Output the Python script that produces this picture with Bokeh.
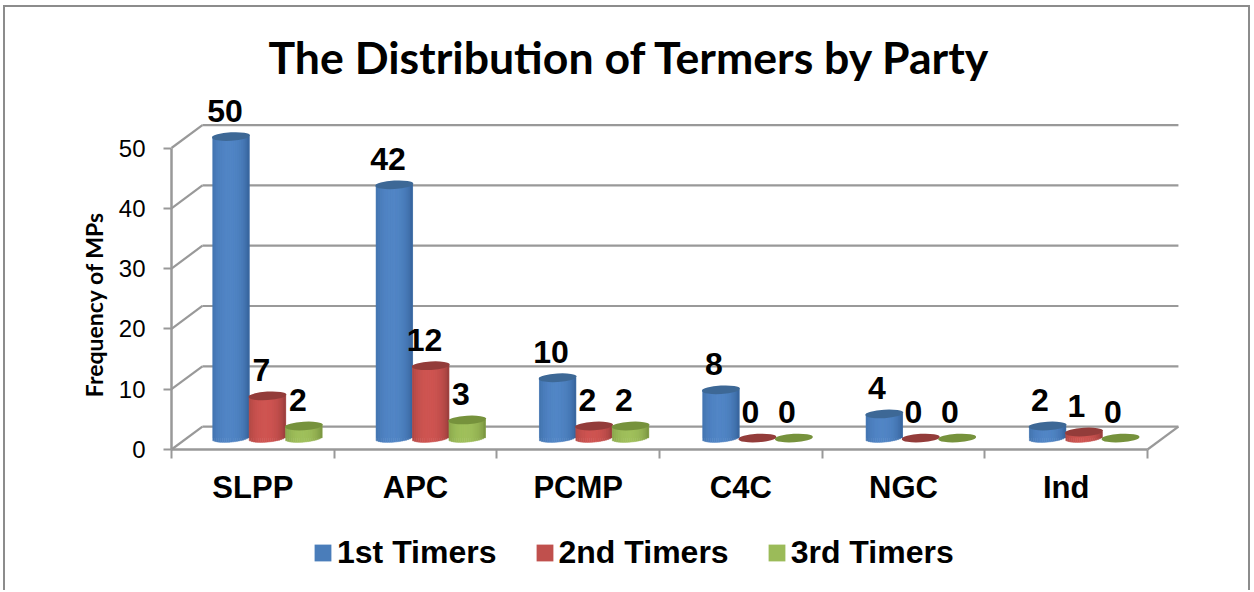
import math
from bokeh.plotting import figure
from bokeh.models import FixedTicker, LinearAxis, Legend, LegendItem, Range1d, Label
from bokeh.core.properties import value
from bokeh.embed import file_html
from bokeh.resources import INLINE

title_text = "The Distribution of Termers by Party"
y_title = "Frequency of MPs"
parties = ["SLPP", "APC", "PCMP", "C4C", "NGC", "Ind"]
series_names = ["1st Timers", "2nd Timers", "3rd Timers"]
first_timers = [50, 42, 10, 8, 4, 2]
second_timers = [7, 12, 2, 0, 0, 1]
third_timers = [2, 3, 2, 0, 0, 0]
y_ticks = [0, 10, 20, 30, 40, 50]
series_values = [first_timers, second_timers, third_timers]
light_colors = ["#5286c6", "#cf5552", "#a0c05c"]
edge_colors = ["#2f5c92", "#8c3836", "#70893a"]
cap_colors = ["#3d6896", "#933c3a", "#76923c"]
legend_colors = ["#4a7dba", "#c0504d", "#9bbb59"]
GRID = "#999999"
FONT = "Liberation Sans"

# Canvas origin on the page, canvas size, and where value 0 / party 0 fall on it
OX, OY = 5, 7
W, H = 1247, 585
ORIGIN_X, TOP, ORIGIN_Y = 171 - OX, 85 - OY, 449 - OY
PX_X = 162.67
PX_Y = 6.03
DX = 0.19   # depth of the 3-D floor, x units
DY = 3.8    # depth of the 3-D floor, value units
BAR_W = 0.224
STEP = 1.004  # bars sit slightly wider apart than the axis slots
LABEL_STEP = 1.002

p = figure(
    width=W, height=H, output_backend="svg", toolbar_location=None,
    x_range=Range1d(-ORIGIN_X / PX_X, (W - ORIGIN_X) / PX_X),
    y_range=Range1d(-(H - ORIGIN_Y) / PX_Y, (ORIGIN_Y - TOP) / PX_Y),
    min_border_left=0, min_border_right=0, min_border_top=TOP, min_border_bottom=0,
    x_axis_type=None, y_axis_type=None,
    outline_line_color=None, background_fill_color="white",
    styles={"margin-left": "3px", "margin-top": "5px",
            "border-left": "2px solid #8c8c8c", "border-top": "2px solid #8c8c8c",
            "border-right": "2px solid #8c8c8c"},
)
p.grid.visible = False

p.title.text = title_text
p.title.text_font = "Lato"
p.title.text_font_style = "bold"
p.title.text_font_size = "44.6px"
p.title.text_color = "black"
p.title.align = "left"
p.title.offset = 263
p.title.standoff = 5

# Axes
ax_y = LinearAxis(
    ticker=FixedTicker(ticks=y_ticks), bounds=(0, 50), fixed_location=0,
    axis_line_color=GRID, axis_line_width=2.5,
    major_tick_line_color=GRID, major_tick_line_width=2, major_tick_out=8, major_tick_in=0,
    minor_tick_line_color=None, major_label_text_font=FONT, major_label_text_font_size="24px",
    major_label_text_color="black", major_label_standoff=18,
)
p.add_layout(ax_y, "left")

n = len(parties)
ax_x = LinearAxis(
    ticker=FixedTicker(ticks=list(range(n + 1))), bounds=(0, n), fixed_location=0,
    axis_line_color=GRID, axis_line_width=2.5,
    major_tick_line_color=GRID, major_tick_line_width=2, major_tick_out=9, major_tick_in=0,
    minor_tick_line_color=None, major_label_text_font_size="0px", major_label_text_color=None,
)
p.add_layout(ax_x, "below")
ax_lab = LinearAxis(
    ticker=FixedTicker(ticks=[i + 0.5 for i in range(n)]), bounds=(0, n), fixed_location=0,
    major_label_overrides={i + 0.5: parties[i] for i in range(n)},
    axis_line_color=None, major_tick_line_color=None, minor_tick_line_color=None,
    major_label_text_font=FONT, major_label_text_font_style="bold",
    major_label_text_font_size="31px", major_label_text_color="black",
    major_label_standoff=14,
)
p.add_layout(ax_lab, "below")

p.add_layout(Label(
    x=(93 - 171) / PX_X, y=(449 - 304) / PX_Y, text=y_title,
    angle=math.pi / 2, text_align="center", text_baseline="middle",
    text_font="Lato", text_font_style="bold", text_font_size="23px", text_color="black",
))

# 3-D walls and floor
p.multi_line(
    [[DX, n + DX] for v in y_ticks] + [[0, DX] for v in y_ticks] + [[n, n + DX]],
    [[v + DY, v + DY] for v in y_ticks] + [[v, v + DY] for v in y_ticks] + [[0, DY]],
    line_color=GRID, line_width=2.2,
)


def mix(a, b, t):
    ca = [int(a[i:i + 2], 16) for i in (1, 3, 5)]
    cb = [int(b[i:i + 2], 16) for i in (1, 3, 5)]
    return "#%02x%02x%02x" % tuple(round(x + (y - x) * t) for x, y in zip(ca, cb))


RY = 4.0 / PX_Y
TILT = 1.6 / PX_Y
STRIPS = 19
legend_items = []
for s, vals in enumerate(series_values):
    centers = [i * STEP + 0.5 + DX / 2 + (s - 1) * BAR_W - 0.005 for i in range(n)]
    label_x = [i * LABEL_STEP + 0.5 + DX / 2 + (s - 1) * BAR_W - 0.005 for i in range(n)]
    base = DY / 2
    r = p.quad(
        left=[c - BAR_W / 2 for c in centers], right=[c + BAR_W / 2 for c in centers],
        bottom=[base] * n, top=[base + v for v in vals],
        fill_color=legend_colors[s], line_color=None,
        fill_alpha=[1 if v > 0 else 0 for v in vals],
    )
    legend_items.append(LegendItem(label=series_names[s], renderers=[r]))
    L, R, B, T, C = [], [], [], [], []
    for i, v in enumerate(vals):
        if v <= 0:
            continue
        for k in range(STRIPS):
            u0 = -1 + 2 * k / STRIPS
            u1 = -1 + 2 * (k + 1) / STRIPS
            u = (u0 + u1) / 2
            shade = max(0.0, 1 - ((u + 0.1) / 1.1) ** 2) ** 0.55
            L.append(centers[i] + u0 * BAR_W / 2)
            R.append(centers[i] + u1 * BAR_W / 2)
            B.append(base - RY * math.sqrt(max(0, 1 - u * u)) + TILT * u)
            T.append(base + v)
            C.append(mix(edge_colors[s], light_colors[s], shade))
    p.quad(left=L, right=R, bottom=B, top=T, fill_color=C, line_color=C, line_width=0.6)
    p.ellipse(
        x=centers, y=[base + v for v in vals], width=38, height=8.5,
        width_units="screen", height_units="screen", angle=0.06,
        fill_color=cap_colors[s], line_color=None,
    )
    p.text(
        x=label_x, y=[base + v for v in vals], text=[str(v) for v in vals],
        x_offset=-6, y_offset=-26, text_align="center", text_baseline="middle",
        text_font=value(FONT), text_font_style="bold", text_font_size="32px", text_color="black",
    )

legend = Legend(
    items=legend_items, orientation="horizontal", location=(307, 21),
    background_fill_alpha=0, border_line_color=None, margin=0, padding=0,
    glyph_width=21, glyph_height=21, label_standoff=4, spacing=37,
    label_text_font=FONT, label_text_font_style="bold", label_text_font_size="32px",
    label_text_color="black",
)
p.add_layout(legend, "center")

open("out.html", "w").write(file_html(p, INLINE))
